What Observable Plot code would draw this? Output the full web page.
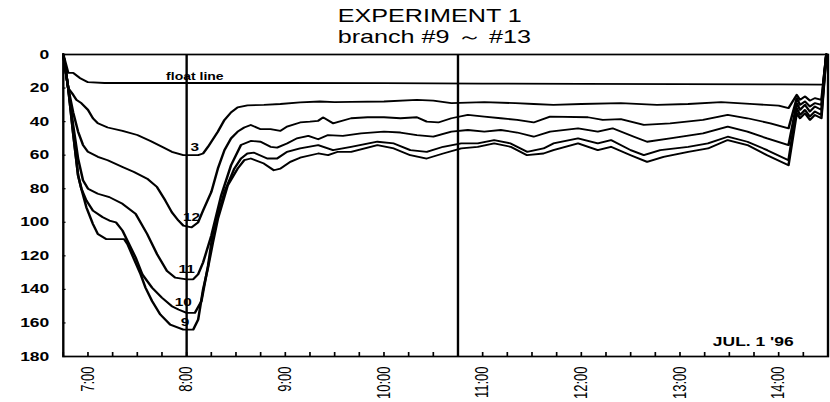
<!DOCTYPE html>
<html><head><meta charset="utf-8">
<script src="https://cdn.jsdelivr.net/npm/d3@7"></script>
<script src="https://cdn.jsdelivr.net/npm/@observablehq/plot@0.6"></script>
<style>
html,body{margin:0;padding:0;background:#fff;}
#chart svg{display:block}
</style></head><body><div id="chart"></div>
<script>
// ---- text ----
const titleLines = ["EXPERIMENT 1", "branch #9 ～ #13"];
const dateLabel = "JUL. 1 '96";
const floatLabel = "float line";
// ---- axes ----
const yTicks = [0, 20, 40, 60, 80, 100, 120, 140, 160, 180];
const hourTicks = ["7:00", "8:00", "9:00", "10:00", "11:00", "12:00", "13:00", "14:00"];
const markerTimes = ["8:00", "10:45"];
// ---- series: [time, depth] ----
const floatLine = [["6:45",0],["6:48",11],["6:51",11],["6:55",14],["7:00",16.5],["7:10",17],["8:00",17],["9:00",17],["10:00",17.1],["11:00",17.3],["12:00",17.5],["13:00",17.6],["14:00",17.8],["14:27",18],["14:29",0]];
const branch3 = [["6:45",0],["6:48",20],["6:51",24],["6:53",27],["6:56",29],["7:00",33],["7:03",38],["7:06",41],["7:12",43.5],["7:21",45.5],["7:30",48],["7:38",51.5],["7:45",55],["7:51",58],["7:58",60],["8:07",60],["8:10",59],["8:13",55],["8:19",46],["8:23",39],["8:27",34.5],["8:31",31.5],["8:37",30.3],["8:47",30],["8:57",29.5],["9:09",28.5],["9:21",28],["9:30",28.4],["9:40",28.2],["10:00",28],["10:20",27],["10:30",27.5],["10:41",29],["11:01",28.4],["11:20",29],["11:31",29.5],["11:43",30],["12:00",29.5],["12:24",29],["12:46",30],["13:05",29.5],["13:25",28.4],["13:45",29.6],["14:00",30.5],["14:06",32],["14:11",24],["14:13",27],["14:16",25],["14:19",27.5],["14:22",26],["14:26",27],["14:29",0]];
const branch12 = [["6:45",0],["6:48",20],["6:51",34.5],["6:54",46],["6:57",54],["7:00",58],["7:06",61],["7:12",63],["7:21",67],["7:28",70],["7:36",74],["7:42",79],["7:47",87],["7:51",94],["7:55",99],["7:58",102],["8:03",103],["8:07",100],["8:10",93],["8:15",82],["8:19",68],["8:23",57],["8:27",50],["8:31",46],["8:35",43.5],["8:39",42],["8:45",44.5],["8:51",44.5],["8:57",45.5],["9:01",43],["9:09",40.5],["9:15",40],["9:20",39.5],["9:23",37.5],["9:29",41],["9:40",38],["9:50",37.4],["10:00",37.4],["10:10",38],["10:20",37.4],["10:26",40],["10:33",40.5],["10:41",38],["10:51",36],["11:01",37],["11:11",38],["11:21",39],["11:31",40.5],["11:41",37],["12:04",37.4],["12:13",39],["12:24",38.5],["12:38",42],["12:54",41],["13:14",39],["13:29",36],["13:41",38],["13:55",41],["14:06",44],["14:11",26],["14:13",30],["14:16",28],["14:19",31],["14:22",29],["14:26",30],["14:29",0]];
const branch11 = [["6:45",0],["6:48",20],["6:51",42],["6:54",62],["6:57",75],["7:00",80],["7:06",83],["7:13",85],["7:21",89],["7:29",95],["7:36",107],["7:42",119],["7:48",129],["7:53",133],["8:00",134],["8:04",134],["8:07",131],["8:10",124],["8:15",108],["8:21",84],["8:27",66],["8:33",54],["8:39",51.5],["8:45",52],["8:51",55],["8:55",55.5],["9:01",53],["9:07",50],["9:14",48.5],["9:20",50.5],["9:26",48],["9:35",48.5],["9:46",47],["10:00",46],["10:10",46.5],["10:20",48],["10:30",49],["10:41",46],["10:51",45],["11:01",46],["11:11",45],["11:21",46.5],["11:31",49],["11:41",46],["11:58",44],["12:10",46],["12:19",44],["12:32",49],["12:40",52],["12:54",50],["13:14",47],["13:29",43],["13:41",46],["13:53",50],["14:06",54],["14:11",29],["14:13",33],["14:16",30],["14:19",34],["14:22",31],["14:26",33],["14:29",0]];
const branch10 = [["6:45",0],["6:48",20],["6:51",47],["6:54",72],["6:56",80],["6:59",87],["7:03",93],["7:09",97],["7:13",99],["7:17",100],["7:21",105],["7:25",113],["7:29",121],["7:33",131],["7:39",139],["7:45",145],["7:51",150],["7:55",152],["8:00",154],["8:05",154],["8:09",147],["8:13",126],["8:16",106],["8:23",82],["8:29",68],["8:33",62],["8:37",59],["8:41",58.5],["8:49",62],["8:55",62],["9:01",58],["9:09",56],["9:20",54],["9:29",57],["9:40",55],["9:56",52],["10:06",53],["10:16",57],["10:26",58],["10:36",55],["10:47",53],["10:57",53],["11:07",51],["11:17",53],["11:27",58],["11:37",56],["11:43",53],["11:58",50],["12:10",53],["12:18",51],["12:30",57],["12:38",60],["12:48",57],["13:05",55],["13:17",53],["13:29",49],["13:41",52],["13:53",57],["14:06",63],["14:11",32],["14:13",36],["14:16",33],["14:19",37],["14:22",34],["14:26",36],["14:29",0]];
const branch9 = [["6:45",0],["6:48",20],["6:51",47],["6:54",72],["6:56",80],["6:59",91],["7:03",101],["7:06",107],["7:11",110],["7:17",110],["7:22",110],["7:24",113],["7:28",122],["7:32",131],["7:35",139],["7:39",147],["7:44",155],["7:50",161],["7:58",164],["8:04",164],["8:07",158],["8:10",140],["8:13",127],["8:16",112],["8:19",98],["8:25",78],["8:31",68],["8:35",63],["8:39",62],["8:47",65],["8:53",69],["8:57",68],["9:03",64],["9:09",61.5],["9:20",59],["9:26",60],["9:32",58],["9:40",58],["9:56",54],["10:06",56],["10:16",60],["10:26",62],["10:36",59],["10:47",56],["10:57",55],["11:07",53],["11:17",55],["11:27",60],["11:37",59],["11:43",57],["11:58",53],["12:10",57],["12:18",55],["12:30",60],["12:40",64],["12:50",61],["13:05",58],["13:17",56],["13:29",51],["13:41",54],["13:53",60],["14:06",66],["14:11",35],["14:13",38],["14:16",35],["14:19",39],["14:22",36],["14:26",38],["14:29",0]];
// ---- curve labels ----
const labelNames = ["3", "12", "11", "10", "9"];
const labelTimes = ["8:05", "8:03", "8:00", "7:58", "7:59"];
const labelDepths = [55.5, 97, 128, 148, 159.5];
const floatLabelTime = "8:05";
const floatLabelDepth = 17;

// ---- build ----
const toH = t => { const [h, m] = t.split(":").map(Number); return h + m / 60; };
const series = [["float", floatLine], ["3", branch3], ["12", branch12], ["11", branch11], ["10", branch10], ["9", branch9]];
const rows = series.flatMap(([name, pts]) => pts.map(([t, d]) => ({name, hour: toH(t), depth: d})));
const labels = labelNames.map((n, i) => ({name: n, hour: toH(labelTimes[i]), depth: labelDepths[i]}));
const xDomain = [6.75, 14.5];
const quarterTicks = d3.range(xDomain[0] * 4, xDomain[1] * 4).map(q => q / 4);

const W = 593, S = 830 / W;
const font = "'Liberation Sans', Arial, sans-serif";
const chart = Plot.plot({
  width: W, height: 402,
  marginLeft: 62.6 / S, marginRight: 2.7 / S, marginTop: 54, marginBottom: 46,
  style: {fontFamily: font, color: "black", background: "white", overflow: "visible"},
  x: {domain: xDomain, axis: null},
  y: {domain: [0, 180], reverse: true, axis: null},
  marks: [
    Plot.ruleX(quarterTicks, {x: d => d, y1: 180, y2: 177.6, strokeWidth: 1.2}),
    Plot.ruleY(yTicks, {y: d => d, x1: xDomain[0], x2: xDomain[0] + 0.03, strokeWidth: 1.2}),
    Plot.ruleX(markerTimes.map(toH), {x: d => d, strokeWidth: 1.7}),
    Plot.line(rows, {x: "hour", y: "depth", z: "name", stroke: "black", strokeWidth: 1.8, strokeLinejoin: "round"}),
    Plot.frame({stroke: "black", strokeWidth: 1.7}),
    Plot.axisY({ticks: yTicks, tickSize: 0, tickPadding: 10, fontSize: 12.5, fontWeight: "bold", label: null}),
    Plot.axisX({ticks: hourTicks.map(toH), tickSize: 0, tickPadding: 10, tickRotate: -90,
      tickFormat: d => hourTicks.find(t => Math.abs(toH(t) - d) < 1e-6), fontSize: 13, label: null}),
    Plot.text([floatLabel], {x: toH(floatLabelTime), y: floatLabelDepth, text: d => d, dy: -3, lineAnchor: "bottom", fontSize: 10, fontWeight: "bold"}),
    Plot.text(labels, {x: "hour", y: "depth", text: "name", fontSize: 11, fontWeight: "bold"}),
    Plot.text([titleLines[0]], {frameAnchor: "top-left", text: d => d, dx: 196, dy: -33, textAnchor: "start", lineAnchor: "bottom", fontSize: 18}),
    Plot.text([titleLines[1]], {frameAnchor: "top-left", text: d => d, dx: 196, dy: -12, textAnchor: "start", lineAnchor: "bottom", fontSize: 18}),
    Plot.text([dateLabel], {frameAnchor: "bottom-right", text: d => d, dx: -24.5, dy: -11, textAnchor: "end", lineAnchor: "bottom", fontSize: 12.5, fontWeight: "bold"})
  ]
});
chart.setAttribute("preserveAspectRatio", "none");
chart.setAttribute("width", "830");
chart.setAttribute("height", "402");
chart.style.width = "830px";
chart.style.height = "402px";
chart.style.maxWidth = "none";
document.getElementById("chart").appendChild(chart);
</script></body></html>
